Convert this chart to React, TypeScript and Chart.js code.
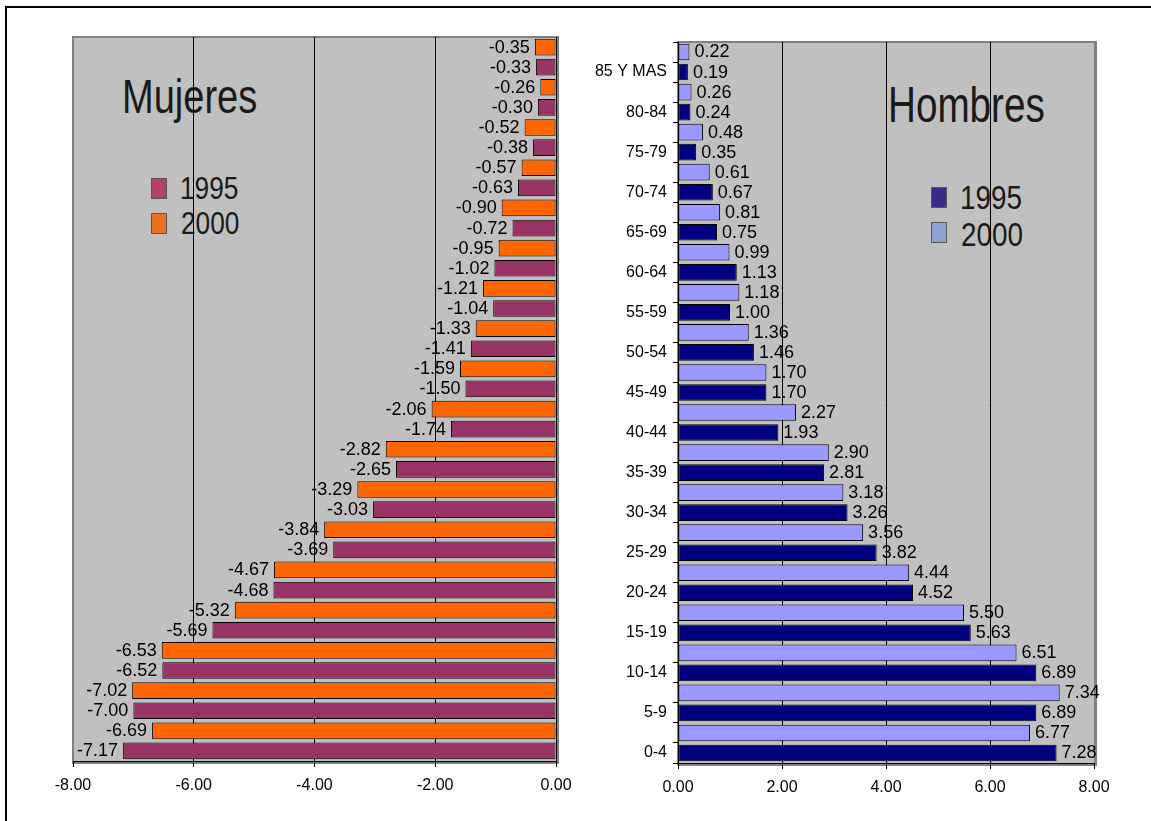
import React, { useEffect, useRef } from 'react';
import { Chart, registerables } from 'chart.js';

Chart.register(...registerables);

// ---------- data ----------
const AGES = ['0-4', '5-9', '10-14', '15-19', '20-24', '25-29', '30-34', '35-39', '40-44',
  '45-49', '50-54', '55-59', '60-64', '65-69', '70-74', '75-79', '80-84', '85 Y MAS'];

const MUJERES_1995 = [-7.17, -7.00, -6.52, -5.69, -4.68, -3.69, -3.03, -2.65, -1.74,
  -1.50, -1.41, -1.04, -1.02, -0.72, -0.63, -0.38, -0.30, -0.33];
const MUJERES_2000 = [-6.69, -7.02, -6.53, -5.32, -4.67, -3.84, -3.29, -2.82, -2.06,
  -1.59, -1.33, -1.21, -0.95, -0.90, -0.57, -0.52, -0.26, -0.35];

const HOMBRES_1995 = [7.28, 6.89, 6.89, 5.63, 4.52, 3.82, 3.26, 2.81, 1.93,
  1.70, 1.46, 1.00, 1.13, 0.75, 0.67, 0.35, 0.24, 0.19];
const HOMBRES_2000 = [6.77, 7.34, 6.51, 5.50, 4.44, 3.56, 3.18, 2.90, 2.27,
  1.70, 1.36, 1.18, 0.99, 0.81, 0.61, 0.48, 0.26, 0.22];

const SERIES_LABELS = ['1995', '2000'];
const X_RANGE_MUJERES = [-8, 0];
const X_RANGE_HOMBRES = [0, 8];
const X_STEP = 2;

// ---------- layout / style ----------
const W = 1151;
const H = 821;
const LEFT_AREA = { left: 73, top: 37, right: 556, bottom: 761 };
const RIGHT_AREA = { left: 678, top: 42, right: 1094, bottom: 763 };
const X_AXIS_H = 40;
const Y_AXIS_W = 100;
const FONT = '"Liberation Sans", Arial, Helvetica, sans-serif';
const COLORS = {
  m1995: '#993366', m2000: '#FF6600',
  h1995: '#000080', h2000: '#9999FF',
  plot: '#C0C0C0', plotBorder: '#808080',
};
const LEGEND_SWATCH = {
  m1995: '#B8406E', m2000: '#F07020', h1995: '#3B2A8C', h2000: '#8FA3D3',
};

function buildRows(v1995: number[], v2000: number[]) {
  const labels: string[] = [];
  const d1995: (number | null)[] = [];
  const d2000: (number | null)[] = [];
  for (let i = AGES.length - 1; i >= 0; i--) {
    labels.push('');
    d2000.push(v2000[i]);
    d1995.push(null);
    labels.push(AGES[i]);
    d1995.push(v1995[i]);
    d2000.push(null);
  }
  return { labels, d1995, d2000 };
}

function valueLabels(side: 'left' | 'right') {
  return {
    id: 'valueLabels',
    afterDatasetsDraw(chart: any) {
      const ctx = chart.ctx;
      ctx.save();
      ctx.font = `18px ${FONT}`;
      ctx.fillStyle = '#000';
      ctx.textBaseline = 'middle';
      chart.data.datasets.forEach((ds: any, di: number) => {
        const meta = chart.getDatasetMeta(di);
        meta.data.forEach((el: any, i: number) => {
          const v = ds.data[i];
          if (v == null) return;
          const { x, y } = el.getProps(['x', 'y'], true);
          if (side === 'left') {
            ctx.textAlign = 'right';
            ctx.fillText(v.toFixed(2), x - 5, y + 0.5);
          } else {
            ctx.textAlign = 'left';
            ctx.fillText(v.toFixed(2), x + 5, y + 0.5);
          }
        });
      });
      ctx.restore();
    },
  };
}

function barDs(label: string, data: (number | null)[], color: string) {
  return {
    label,
    data,
    backgroundColor: color,
    borderColor: '#000',
    borderWidth: 1,
    borderSkipped: false,
    grouped: false,
    categoryPercentage: 1,
    barPercentage: 0.83,
  };
}

function xScale(range: number[], edgeValue: number) {
  return {
    type: 'linear',
    min: range[0],
    max: range[1],
    afterFit: (s: any) => { s.height = X_AXIS_H; },
    ticks: {
      stepSize: X_STEP,
      color: '#000',
      font: { family: FONT, size: 16 },
      padding: 9,
      maxRotation: 0,
      callback: (v: any) => Number(v).toFixed(2),
    },
    grid: {
      color: (ctx: any) => (ctx.tick && ctx.tick.value === edgeValue ? COLORS.plotBorder : '#000'),
      tickColor: '#000',
      tickLength: 6,
      lineWidth: 1,
    },
    border: { display: true, color: '#000', width: 1 },
  };
}

const App: React.FC = () => {
  const leftRef = useRef<HTMLCanvasElement>(null);
  const rightRef = useRef<HTMLCanvasElement>(null);

  useEffect(() => {
    const m = buildRows(MUJERES_1995, MUJERES_2000);
    const h = buildRows(HOMBRES_1995, HOMBRES_2000);

    const left = new Chart(leftRef.current as HTMLCanvasElement, {
      type: 'bar',
      data: {
        labels: m.labels,
        datasets: [
          barDs(SERIES_LABELS[0], m.d1995, COLORS.m1995),
          barDs(SERIES_LABELS[1], m.d2000, COLORS.m2000),
        ] as any,
      },
      options: {
        indexAxis: 'y',
        responsive: false,
        animation: false,
        layout: {
          padding: {
            left: LEFT_AREA.left,
            top: LEFT_AREA.top,
            right: W - LEFT_AREA.right,
            bottom: H - LEFT_AREA.bottom - X_AXIS_H,
          },
        },
        plugins: { legend: { display: false }, tooltip: { enabled: false } },
        scales: {
          x: xScale(X_RANGE_MUJERES, X_RANGE_MUJERES[0]) as any,
          y: { display: false },
        },
      } as any,
      plugins: [valueLabels('left')],
    });

    const right = new Chart(rightRef.current as HTMLCanvasElement, {
      type: 'bar',
      data: {
        labels: h.labels,
        datasets: [
          barDs(SERIES_LABELS[0], h.d1995, COLORS.h1995),
          barDs(SERIES_LABELS[1], h.d2000, COLORS.h2000),
        ] as any,
      },
      options: {
        indexAxis: 'y',
        responsive: false,
        animation: false,
        layout: {
          padding: {
            left: RIGHT_AREA.left - Y_AXIS_W,
            top: RIGHT_AREA.top,
            right: W - RIGHT_AREA.right,
            bottom: H - RIGHT_AREA.bottom - X_AXIS_H,
          },
        },
        plugins: { legend: { display: false }, tooltip: { enabled: false } },
        scales: {
          x: xScale(X_RANGE_HOMBRES, X_RANGE_HOMBRES[1]) as any,
          y: {
            type: 'category',
            afterFit: (s: any) => { s.width = Y_AXIS_W; },
            ticks: {
              autoSkip: false,
              color: '#000',
              font: { family: FONT, size: 16 },
              padding: 6,
            },
            grid: {
              drawOnChartArea: false,
              drawTicks: true,
              tickLength: 5,
              color: '#000',
              offset: true,
            },
            border: { display: true, color: '#000', width: 1 },
          },
        },
      } as any,
      plugins: [valueLabels('right')],
    });

    return () => {
      left.destroy();
      right.destroy();
    };
  }, []);

  const area = (a: { left: number; top: number; right: number; bottom: number }): React.CSSProperties => ({
    position: 'absolute',
    left: a.left - 1,
    top: a.top - 1,
    width: a.right - a.left,
    height: a.bottom - a.top,
    background: COLORS.plot,
    border: `2px solid ${COLORS.plotBorder}`,
    boxSizing: 'content-box',
    marginLeft: -0.5,
    marginTop: -0.5,
  });

  const text = (left: number, top: number, size: number, scale: number): React.CSSProperties => ({
    position: 'absolute',
    left,
    top,
    fontFamily: FONT,
    fontSize: size,
    lineHeight: `${size}px`,
    color: '#1a1a1a',
    whiteSpace: 'nowrap',
    transform: `scaleX(${scale})`,
    transformOrigin: 'left top',
  });

  const swatch = (left: number, top: number, color: string): React.CSSProperties => ({
    position: 'absolute',
    left,
    top,
    width: 14,
    height: 19,
    background: color,
    border: '1px solid #555',
  });

  return (
    <div style={{ position: 'fixed', left: 0, top: 0, width: W, height: H, overflow: 'hidden', background: '#fff' }}>
      <div style={{ position: 'absolute', left: 5, top: 6, width: 1144, height: 900, borderTop: '2px solid #000', borderLeft: '2px solid #000' }} />
      <div style={area(LEFT_AREA)} />
      <div style={area(RIGHT_AREA)} />

      <div style={text(122, 72, 49, 0.776)}>Mujeres</div>
      <div style={swatch(151, 178, LEGEND_SWATCH.m1995)} />
      <div style={swatch(151, 213, LEGEND_SWATCH.m2000)} />
      <div style={text(180, 172, 32, 0.82)}>{SERIES_LABELS[0]}</div>
      <div style={text(181, 207, 32, 0.82)}>{SERIES_LABELS[1]}</div>

      <div style={text(888, 80, 50, 0.773)}>Hombres</div>
      <div style={swatch(931, 187, LEGEND_SWATCH.h1995)} />
      <div style={swatch(931, 222, LEGEND_SWATCH.h2000)} />
      <div style={text(960, 180, 34, 0.82)}>{SERIES_LABELS[0]}</div>
      <div style={text(961, 217, 34, 0.82)}>{SERIES_LABELS[1]}</div>

      <canvas ref={leftRef} width={W} height={H} style={{ position: 'absolute', left: 0, top: 0 }} />
      <canvas ref={rightRef} width={W} height={H} style={{ position: 'absolute', left: 0, top: 0 }} />
    </div>
  );
};

export default App;
